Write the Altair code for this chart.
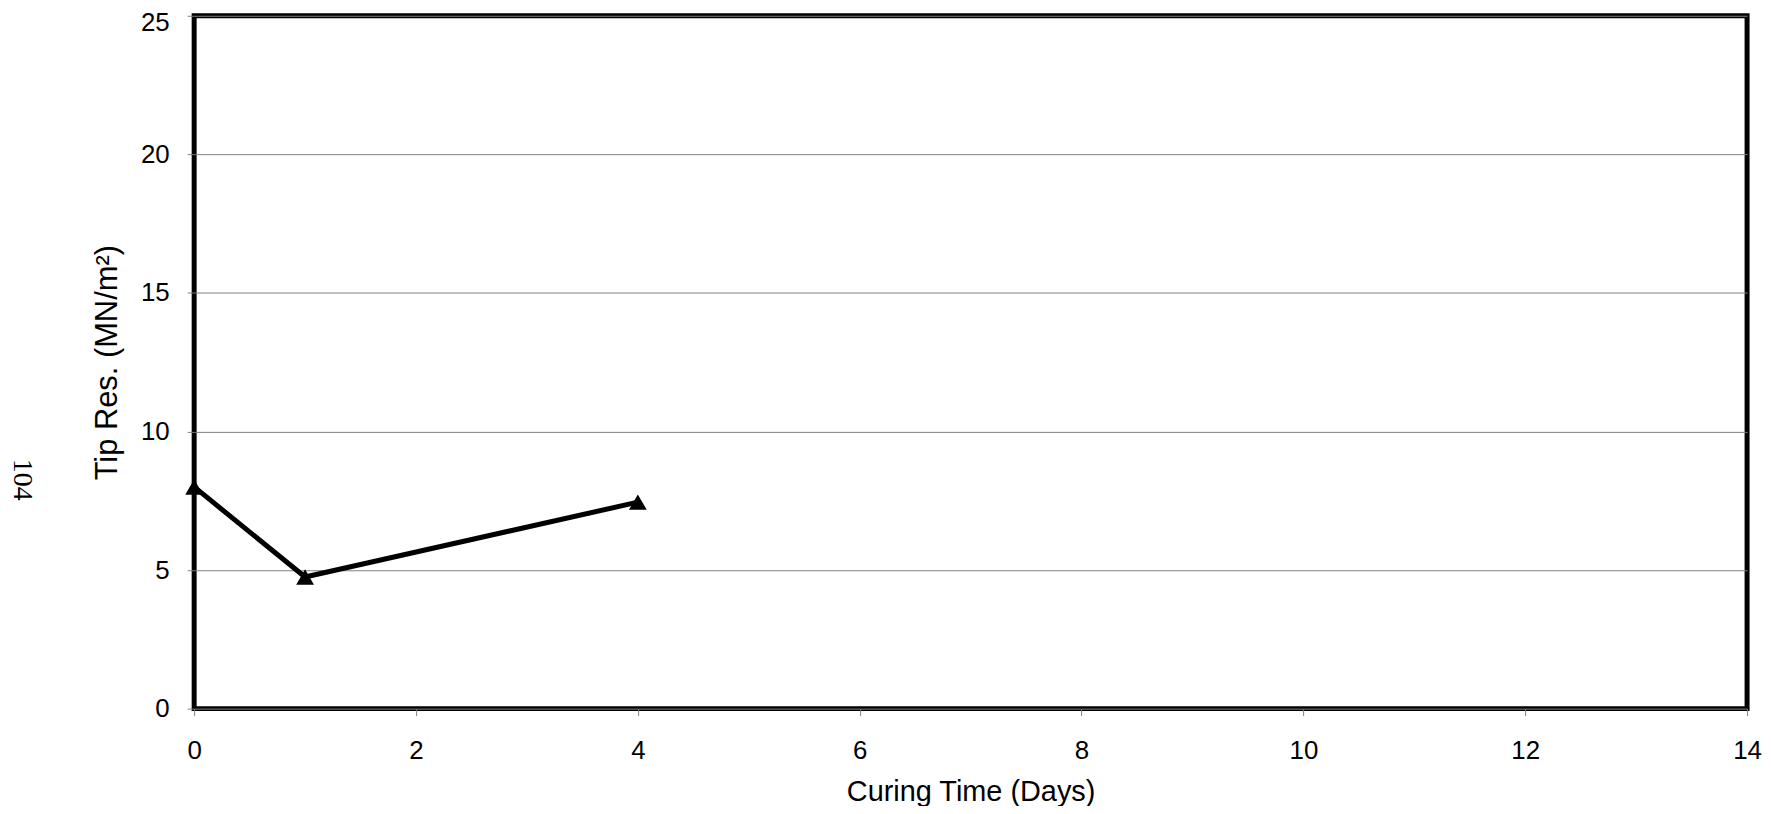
import altair as alt
import pandas as pd

days = [0, 1, 4]
tip_res = [8.0, 4.75, 7.45]
x_ticks = [0, 2, 4, 6, 8, 10, 12, 14]
y_ticks = [0, 5, 10, 15, 20, 25]
page_number = "104"

df = pd.DataFrame({"days": days, "tip": tip_res})

x = alt.X("days:Q", scale=alt.Scale(domain=[0, 14], nice=False),
          axis=alt.Axis(title="Curing Time (Days)", values=x_ticks, format="d", grid=False,
                        domain=False, tickSize=7, tickColor="#808080", tickWidth=1,
                        labelFlush=False, labelPadding=22, titlePadding=14,
                        labelFontSize=26, titleFontSize=29,
                        labelFont="Liberation Sans", titleFont="Liberation Sans",
                        labelColor="black", titleColor="black", titleFontWeight="normal"))
y = alt.Y("tip:Q", scale=alt.Scale(domain=[0, 25], nice=False),
          axis=alt.Axis(title="Tip Res. (MN/m²)", values=y_ticks, format="d", grid=True,
                        gridColor="#808080", gridWidth=1, domain=False, tickSize=7,
                        tickColor="#808080", tickWidth=1, labelPadding=18, titlePadding=17,
                        labelOffset={"condition": {"test": "datum.value == 25", "value": 7},
                                     "value": 0},
                        labelFontSize=26, titleFontSize=31, labelFont="Liberation Sans",
                        titleFont="Liberation Sans", labelColor="black", titleColor="black",
                        titleFontWeight="normal"))

line = alt.Chart(df).mark_line(color="black", strokeWidth=5).encode(x=x, y=y)
pts = alt.Chart(df).mark_point(shape="triangle-up", filled=True, color="black", size=320,
                               opacity=1).encode(x="days:Q", y="tip:Q")
page = alt.Chart(pd.DataFrame({"t": [page_number]})).mark_text(
    angle=90, font="Liberation Serif", fontSize=28, color="black",
    align="center", baseline="middle").encode(
    text="t:N", x=alt.value(-173), y=alt.value(466))

chart = alt.layer(line, pts, page).properties(
    width=1560, height=696,
    autosize=alt.AutoSizeParams(type="none"),
    padding={"left": 187, "top": 6, "right": 16, "bottom": 96},
).configure_view(stroke="black", strokeWidth=5)

chart.save("out.html", embed_options={"renderer": "svg", "actions": False})
